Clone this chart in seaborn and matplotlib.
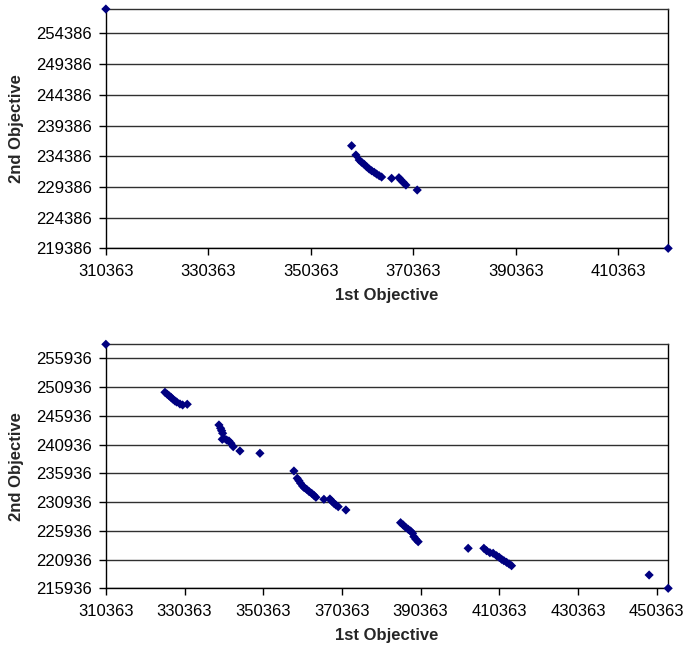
import matplotlib
matplotlib.use("Agg")
import matplotlib.pyplot as plt
import seaborn as sns
import pandas as pd

# ---- data: upper chart ----
top_x = [310363, 358324, 359163, 359806, 360274, 360782, 361250, 361758, 362226,
         362733, 363201, 363709, 364177, 366128, 367553, 367943, 368392, 368918,
         371123, 420100]
top_y = [258360, 236096, 234582, 233767, 233393, 233067, 232676, 232302, 232025,
         231764, 231487, 231210, 230999, 230787, 230885, 230510, 230135, 229696,
         228881, 219386]
top_xticks = [310363, 330363, 350363, 370363, 390363, 410363]
top_yticks = [219386, 224386, 229386, 234386, 239386, 244386, 249386, 254386]

# ---- data: lower chart ----
bot_x = [310363,
         325382, 325967, 326475, 326907, 327339, 327923, 328355, 329194, 329880, 331049,
         339105, 339537, 339791, 340045, 339944, 340376, 341062, 341646, 342155, 342739,
         344442, 349524,
         358165, 359003, 359436, 359868, 360376, 360782, 361392, 362053, 362663, 363247,
         363756, 365789, 367313, 367746, 368330, 368839, 369423, 371380,
         385280, 385941, 386551, 387212, 387822, 388330, 388660, 389169, 389753,
         402460, 406450, 407136, 407975, 408813, 409677, 410338, 410948, 411532,
         412218, 412879, 413489,
         448457, 453300]
bot_y = [258360,
         250020, 249673, 249377, 249151, 248855, 248507, 248334, 247986, 247812, 247934,
         244334, 243760, 243343, 242891, 241847, 242021, 241725, 241551, 241152, 240560,
         239812, 239413,
         236334, 235065, 234648, 234196, 233726, 233430, 233152, 232735, 232457, 232109,
         231761, 231413, 231465, 231117, 230718, 230422, 230126, 229552,
         227344, 226944, 226544, 226196, 225900, 225501, 224909, 224457, 224040,
         222892, 222892, 222475, 222127, 222023, 221605, 221327, 220979, 220736,
         220457, 220162, 219866,
         218249, 215936]
bot_xticks = [310363, 330363, 350363, 370363, 390363, 410363, 430363, 450363]
bot_yticks = [215936, 220936, 225936, 230936, 235936, 240936, 245936, 250936, 255936]

x_label = "1st Objective"
y_label = "2nd Objective"

sns.set_theme(style="white")
plt.rcParams["font.family"] = ["Liberation Sans", "DejaVu Sans"]

fig = plt.figure(figsize=(6.83, 6.45), dpi=100)
ax1 = fig.add_axes([0.155, 0.615, 0.8233, 0.371])
ax2 = fig.add_axes([0.155, 0.0879, 0.8233, 0.3783])

NAVY = "#000080"
GRID = "#303030"


def draw(ax, xs, ys, xticks, yticks):
    df = pd.DataFrame({"x": xs, "y": ys})
    sns.scatterplot(data=df, x="x", y="y", ax=ax, marker="D", s=22,
                    color=NAVY, edgecolor="none", linewidth=0, clip_on=False,
                    zorder=5)
    ax.set_xlim(min(xs), max(xs))
    ax.set_ylim(min(ys), max(ys))
    ax.set_xticks(xticks)
    ax.set_xticklabels([str(v) for v in xticks])
    ax.set_yticks(yticks)
    ax.set_yticklabels([str(v) for v in yticks])
    ax.yaxis.grid(True, color=GRID, linewidth=1.0)
    ax.xaxis.grid(False)
    ax.set_axisbelow(True)
    for side in ["left", "bottom", "right"]:
        ax.spines[side].set_color("black")
        ax.spines[side].set_linewidth(1.0)
    ax.spines["top"].set_color(GRID)
    ax.spines["top"].set_linewidth(1.0)
    ax.tick_params(axis="both", which="major", direction="out", length=5,
                   width=1, color="black", labelsize=12, labelcolor="black",
                   bottom=True, left=True)
    ax.tick_params(axis="y", pad=5)
    ax.tick_params(axis="x", pad=6)
    ax.set_xlabel(x_label, fontsize=12, fontweight="bold", labelpad=7)
    ax.set_ylabel(y_label, fontsize=12, fontweight="bold", labelpad=9)


draw(ax1, top_x, top_y, top_xticks, top_yticks)
draw(ax2, bot_x, bot_y, bot_xticks, bot_yticks)

fig.savefig("out.png", dpi=100)
